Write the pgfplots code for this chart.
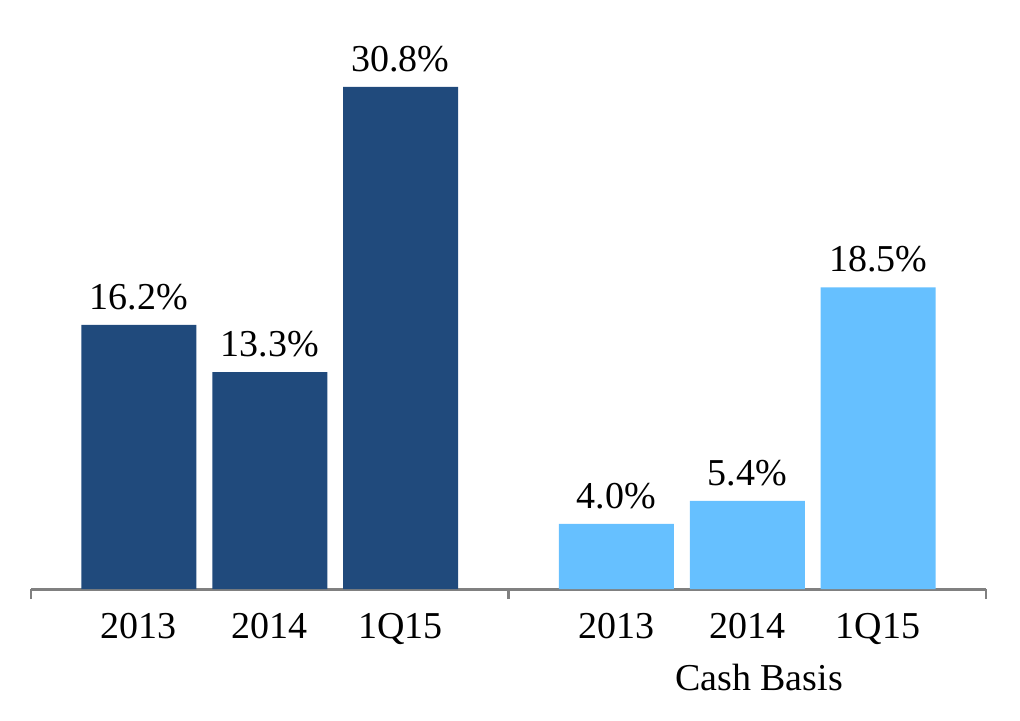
\documentclass[border=0pt]{standalone}
\usepackage{fontspec}
\setmainfont{Liberation Serif}
\usepackage{pgfplots}
\pgfplotsset{compat=1.18}
\definecolor{darkbar}{RGB}{32,74,124}
\definecolor{lightbar}{RGB}{102,192,255}
\definecolor{axgray}{RGB}{128,128,128}
\begin{document}
\begin{tikzpicture}
\path[use as bounding box] (0,0) rectangle (510pt,360pt);
\begin{axis}[
  at={(15.5pt,65.5pt)}, anchor=south west,
  scale only axis, width=477.5pt, height=285.25pt,
  xmin=-0.825, xmax=6.475, ymin=0, ymax=35,
  axis x line*=bottom, axis y line=none,
  x axis line style={axgray, line width=1.5pt},
  xtick={0,1,2,3.65,4.65,5.65},
  xticklabels={2013,2014,1Q15,2013,2014,1Q15},
  major tick length=0pt,
  xticklabel style={font=\fontsize{19}{21}\selectfont, anchor=base, yshift=-24.5pt},
  extra x ticks={-0.825,2.825,6.475},
  extra x tick labels={},
  extra x tick style={major tick length=5pt, tick align=outside, tick style={axgray, line width=1.4pt}},
  /pgf/number format/assume math mode=true,
  nodes near coords={\pgfmathprintnumber[fixed,fixed zerofill,precision=1]{\pgfplotspointmeta}\%},
  every node near coord/.append style={font=\fontsize{19}{21}\selectfont, text=black, yshift=4pt},
  clip=false,
]
\addplot[ybar, bar width=57.5pt, fill=darkbar, draw=none] coordinates {(0,16.2) (1,13.3) (2,30.8)};
\addplot[ybar, bar width=57.5pt, fill=lightbar, draw=none] coordinates {(3.65,4.0) (4.65,5.4) (5.65,18.5)};
\node[anchor=base, font=\fontsize{19}{21}\selectfont] at (axis cs:4.74,0) [yshift=-50.5pt] {Cash Basis};
\end{axis}
\end{tikzpicture}
\end{document}
